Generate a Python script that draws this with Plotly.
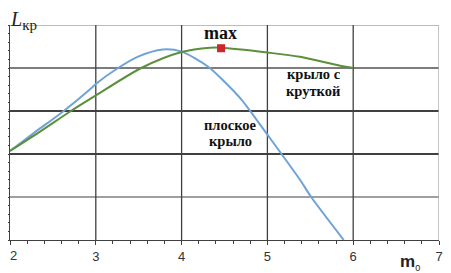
import plotly.graph_objects as go

# data
flat_x = [2.0, 2.3, 2.6, 2.93, 3.0, 3.26, 3.5, 3.78, 4.0, 4.31, 4.5, 4.7, 5.0, 5.38, 5.51, 5.89]
flat_y = [2.07, 2.52, 2.96, 3.50, 3.63, 4.0, 4.27, 4.43, 4.38, 4.03, 3.68, 3.26, 2.45, 1.40, 1.0, 0.0]
twist_x = [2.0, 2.35, 2.71, 3.0, 3.53, 4.0, 4.33, 4.46, 5.0, 5.38, 5.85, 6.0]
twist_y = [2.07, 2.52, 3.0, 3.36, 4.0, 4.37, 4.47, 4.47, 4.36, 4.26, 4.05, 4.0]
max_x = [4.46]
max_y = [4.46]
x_ticks = [2, 3, 4, 5, 6, 7]
x_tick_text = ["", "3", "4", "5", "6", "7"]  # "2" drawn as a separate label at the left edge
y_grid = [1, 2, 3, 4, 5]
y_grid_colors = ["#7f7f7f", "#000000", "#000000", "#505050", "#a6a6a6"]
x_grid = [3, 4, 5, 6, 7]
x_grid_colors = ["#404040", "#404040", "#404040", "#404040", "#a6a6a6"]

fig = go.Figure()
fig.add_trace(go.Scatter(x=flat_x, y=flat_y, mode="lines", line=dict(color="#6fa3d6", width=2, shape="spline", smoothing=0.8), showlegend=False))
fig.add_trace(go.Scatter(x=twist_x, y=twist_y, mode="lines", line=dict(color="#5b8f3c", width=2, shape="spline", smoothing=0.8), showlegend=False))
fig.add_trace(go.Scatter(x=max_x, y=max_y, mode="markers", marker=dict(symbol="square", size=8, color="#c8282e"), showlegend=False))

shapes = []
for v, c in zip(y_grid, y_grid_colors):
    shapes.append(dict(type="line", xref="x", yref="y", x0=2, x1=7, y0=v, y1=v, line=dict(color=c, width=1.3), layer="below"))
for v, c in zip(x_grid, x_grid_colors):
    shapes.append(dict(type="line", xref="x", yref="y", x0=v, x1=v, y0=0, y1=5, line=dict(color=c, width=1.3), layer="below"))

serif = "Liberation Serif, Times New Roman, serif"
lab = dict(family=serif, size=14.5, color="#111")
annotations = [
    dict(x=4.455, y=4.81, xref="x", yref="y", text="<b>max</b>", showarrow=False, font=dict(family=serif, size=18, color="#111")),
    dict(x=5.544, y=3.855, xref="x", yref="y", text="<b>крыло с</b>", showarrow=False, font=lab),
    dict(x=5.532, y=3.475, xref="x", yref="y", text="<b>круткой</b>", showarrow=False, font=lab),
    dict(x=4.573, y=2.675, xref="x", yref="y", text="<b>плоское</b>", showarrow=False, font=lab),
    dict(x=4.57, y=2.295, xref="x", yref="y", text="<b>крыло</b>", showarrow=False, font=lab),
    dict(x=-2 / 428.5, y=1 + 19 / 215.5, xref="paper", yref="paper", xanchor="left", yanchor="top",
         text="<i>L</i><sub><span style='font-size:15px'>кр</span></sub>", showarrow=False,
         font=dict(family=serif, size=20, color="#222")),
    dict(x=0.933, y=-0.104, xref="paper", yref="paper", xanchor="center", yanchor="middle",
         text="<b>m</b><sub><span style='font-size:9px'>0</span></sub>", showarrow=False,
         font=dict(family="Liberation Sans", size=17, color="#222")),
    dict(x=-1.5 / 428.5, y=-16 / 215.5, xref="paper", yref="paper", xanchor="left", yanchor="middle",
         text="2", showarrow=False, font=dict(family="Liberation Sans", size=13, color="#333")),
]

fig.update_layout(
    width=443, height=265,
    margin=dict(l=2, r=12, t=17, b=33, autoexpand=False),
    paper_bgcolor="white", plot_bgcolor="white",
    shapes=shapes, annotations=annotations,
    xaxis=dict(range=[2, 7], tickvals=x_ticks, ticktext=x_tick_text, showgrid=False, zeroline=False, automargin=False,
               ticklabeloverflow="allow",
               showline=True, linecolor="#404040", linewidth=1.3,
               ticks="outside", ticklen=4, tickcolor="#404040",
               minor=dict(dtick=0.2, ticks="outside", ticklen=3, tickcolor="#404040"),
               tickfont=dict(family="Liberation Sans", size=13, color="#333")),
    yaxis=dict(range=[0, 5], dtick=1, showgrid=False, zeroline=False, showticklabels=False, automargin=False,
               showline=True, linecolor="#404040", linewidth=1.3,
               ticks="outside", ticklen=3, tickcolor="#404040",
               minor=dict(dtick=0.2, ticks="outside", ticklen=3, tickcolor="#404040")),
)

fig.write_html("out.html")
